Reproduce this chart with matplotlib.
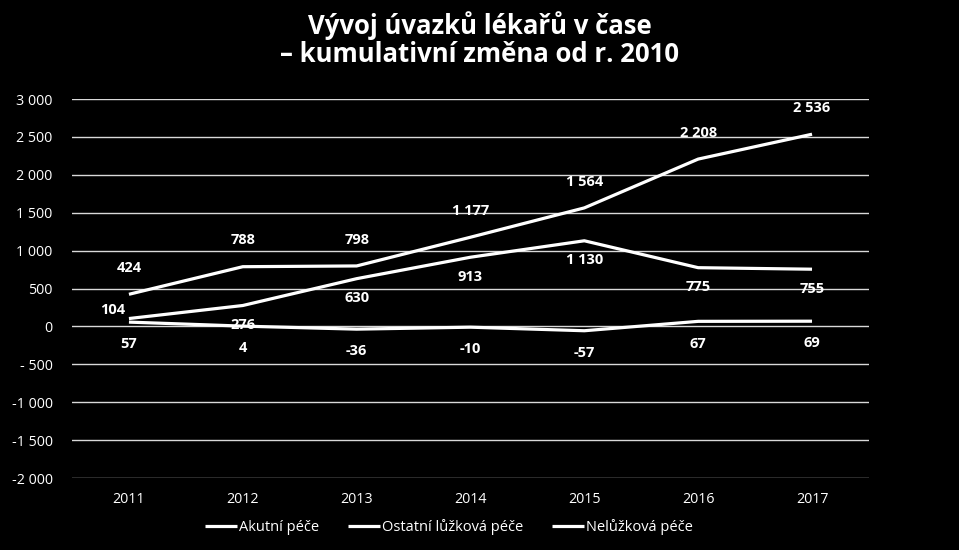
import numpy as np
import matplotlib.pyplot as plt

# Data
years = ["2011", "2012", "2013", "2014", "2015", "2016", "2017"]
akutni = [424, 788, 798, 1177, 1564, 2208, 2536]
ostatni = [104, 276, 630, 913, 1130, 775, 755]
neluzkova = [57, 4, -36, -10, -57, 67, 69]
y_ticks = [3000, 2500, 2000, 1500, 1000, 500, 0, -500, -1000, -1500, -2000]
series_names = ["Akutní péče", "Ostatní lůžková péče", "Nelůžková péče"]

plt.rcParams['font.family'] = ['Open Sans', 'DejaVu Sans']


def fmt(v):
    s = f"{abs(v):,}".replace(",", " ")
    if v < 0:
        return ("- " if abs(v) < 1000 else "-") + s
    return s


def fmt_label(v):
    return ("-" if v < 0 else "") + f"{abs(v):,}".replace(",", " ")


fig = plt.figure(figsize=(9.59, 5.5), dpi=100, facecolor='black')
ax = fig.add_axes([0.0751, 0.1309, 0.831, 0.689], facecolor='black')

x = np.arange(len(years))
ax.set_xlim(-0.5, len(years) - 0.5)
ax.set_ylim(-2000, 3000)
ax.set_yticks(y_ticks)
ax.set_yticklabels([fmt(v) for v in y_ticks])
ax.set_xticks(x)
ax.set_xticklabels(years)
ax.grid(axis='y', color='#d9d9d9', lw=1)
ax.set_axisbelow(True)
for s in ax.spines.values():
    s.set_visible(False)
ax.tick_params(length=0, colors='white', labelsize=10.3)
ax.tick_params(axis='y', pad=14)
ax.tick_params(axis='x', pad=10)

lines = []
for vals in (akutni, ostatni, neluzkova):
    ln, = ax.plot(x, vals, color='white', lw=2.3, solid_capstyle='butt')
    lines.append(ln)

lab_kw = dict(color='white', fontsize=10.5, fontweight='bold', ha='center', va='center')
for i, v in enumerate(akutni):
    ax.annotate(fmt_label(v), (x[i], v), xytext=(0, 19), textcoords='offset points', **lab_kw)
for i, v in enumerate(ostatni):
    off = (-12, 6) if i == 0 else (0, -14)
    ax.annotate(fmt_label(v), (x[i], v), xytext=off, textcoords='offset points', **lab_kw)
for i, v in enumerate(neluzkova):
    ax.annotate(fmt_label(v), (x[i], v), xytext=(0, -16), textcoords='offset points', **lab_kw)

fig.text(0.5, 0.928, "Vývoj úvazků lékařů v čase\n– kumulativní změna od r. 2010",
         color='white', fontsize=18.5, fontweight='bold', ha='center', va='center',
         linespacing=1.05)

leg = fig.legend(lines, series_names, loc='center', bbox_to_anchor=(0.468, 0.042),
                 ncol=3, frameon=False, fontsize=10.5, labelcolor='white',
                 handlelength=2.2, handletextpad=0.1, columnspacing=2.0)

fig.savefig('out.png', dpi=100, facecolor='black')
